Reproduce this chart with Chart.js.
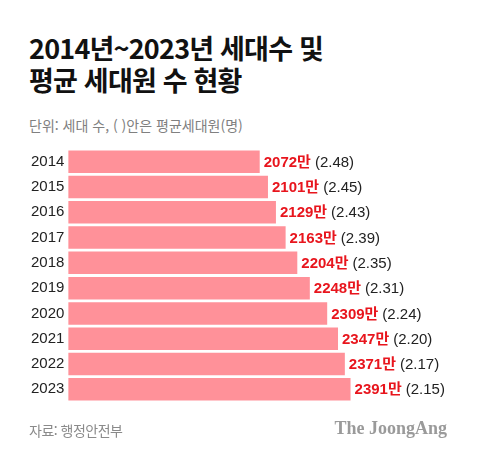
<!DOCTYPE html>
<html lang="ko">
<head>
<meta charset="utf-8">
<script src="https://cdn.jsdelivr.net/npm/chart.js@4.4.1/dist/chart.umd.min.js"></script>
<style>
    html, body { margin: 0; padding: 0; background: #fff; }
    body { width: 480px; height: 459px; position: relative; overflow: hidden; font-family: 'Noto Sans CJK KR', sans-serif; }
    #chartBox { position: absolute; left: 0; top: 0; width: 480px; height: 459px; }
    .title { position: absolute; left: 29px; top: 32px; font-size: 27px; font-weight: 700; line-height: 32px; color: #111; letter-spacing: -0.8px; }
    .unit { position: absolute; left: 29px; top: 115px; font-size: 14px; color: #808080; }
    .source { position: absolute; left: 29px; top: 420px; font-size: 14px; color: #8a8a8a; letter-spacing: -0.5px; }
    .brand { position: absolute; right: 33px; top: 418px; font-family: 'Liberation Serif', serif; font-weight: 700; font-size: 18px; color: #9a9a9a; }
</style>
</head>
<body>
<div class="title">2014년~2023년 세대수 및<br>평균 세대원 수 현황</div>
<div class="unit">단위: 세대 수, ( )안은 평균세대원(명)</div>
<div id="chartBox"><canvas id="barChart"></canvas></div>
<div class="source">자료: 행정안전부</div>
<div class="brand">The JoongAng</div>
<script>
document.addEventListener('DOMContentLoaded', () => {
    const years = ['2014', '2015', '2016', '2017', '2018', '2019', '2020', '2021', '2022', '2023'];
    const households = [2072, 2101, 2129, 2163, 2204, 2248, 2309, 2347, 2371, 2391];
    const avgMembers = ['2.48', '2.45', '2.43', '2.39', '2.35', '2.31', '2.24', '2.20', '2.17', '2.15'];

    const ctx = document.getElementById('barChart').getContext('2d');

    // draws "2072만 (2.48)" right after each bar end
    const valueLabels = {
        id: 'valueLabels',
        afterDatasetsDraw(chart) {
            const c = chart.ctx;
            const bars = chart.getDatasetMeta(0).data;
            c.save();
            c.textBaseline = 'middle';
            bars.forEach((bar, i) => {
                let x = bar.x + 4;
                const y = bar.y + 1;
                c.font = "700 15px 'Liberation Sans', 'Noto Sans CJK KR', sans-serif";
                c.fillStyle = '#e8151d';
                const main = households[i] + '만';
                c.fillText(main, x, y);
                x += c.measureText(main).width + 4;
                c.font = "400 15px 'Liberation Sans', sans-serif";
                c.fillStyle = '#222';
                c.fillText('(' + avgMembers[i] + ')', x, y);
            });
            c.restore();
        }
    };

    new Chart(ctx, {
        type: 'bar',
        data: {
            labels: years,
            datasets: [{
                data: households,
                backgroundColor: '#ff9199',
                borderWidth: 0,
                categoryPercentage: 1,
                barPercentage: 0.89
            }]
        },
        options: {
            indexAxis: 'y',
            responsive: true,
            maintainAspectRatio: false,
            animation: false,
            layout: {
                padding: { top: 149, bottom: 57, left: 27, right: 13 }
            },
            scales: {
                x: {
                    display: false,
                    min: 1400,
                    max: 2800
                },
                y: {
                    grid: { display: false, drawTicks: false },
                    border: { display: false },
                    ticks: {
                        color: '#222',
                        padding: 4,
                        font: { family: "'Liberation Sans', sans-serif", size: 15 }
                    }
                }
            },
            plugins: {
                legend: { display: false },
                tooltip: { enabled: false }
            }
        },
        plugins: [valueLabels]
    });
});
</script>
</body>
</html>
